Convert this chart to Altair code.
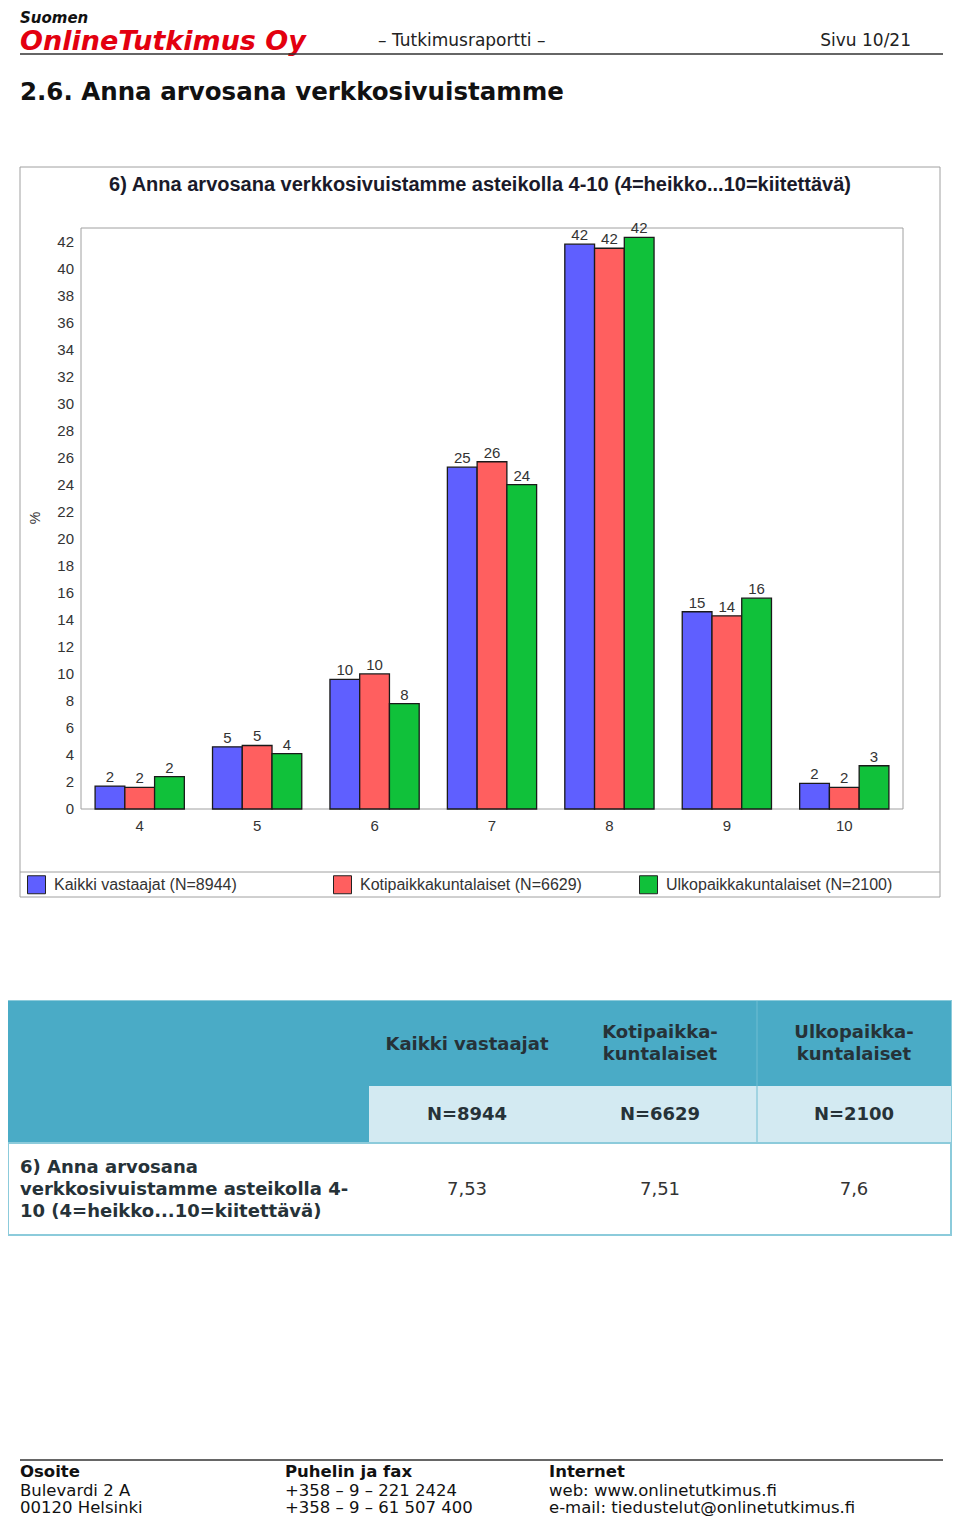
import altair as alt
import pandas as pd

# ---------------- data ----------------
categories = ["4", "5", "6", "7", "8", "9", "10"]
series = [
    "Kaikki vastaajat (N=8944)",
    "Kotipaikkakuntalaiset (N=6629)",
    "Ulkopaikkakuntalaiset (N=2100)",
]
kaikki = [1.7, 4.6, 9.6, 25.3, 41.8, 14.6, 1.9]
koti = [1.6, 4.7, 10.0, 25.7, 41.5, 14.3, 1.6]
ulko = [2.4, 4.1, 7.8, 24.0, 42.3, 15.6, 3.2]
colors = ["#5f5fff", "#ff5f5f", "#10c13a"]
y_ticks = list(range(0, 43, 2))

table_cols = ["Kaikki vastaajat", ["Kotipaikka-", "kuntalaiset"], ["Ulkopaikka-", "kuntalaiset"]]
table_n = ["N=8944", "N=6629", "N=2100"]
table_means = ["7,53", "7,51", "7,6"]

rows = []
for s, vals in zip(series, [kaikki, koti, ulko]):
    for c, v in zip(categories, vals):
        rows.append({"cat": c, "series": s, "value": v})
df = pd.DataFrame(rows)
ticks_df = pd.DataFrame({"tick": y_ticks})
cats_df = pd.DataFrame({"cat": categories})

O = 8  # page margin offset
W, H = 944, 1508

CHART_FONT = "Liberation Sans"
DOC_FONT = "DejaVu Sans"
one = alt.Data(values=[{"a": 1}])


def P(v):
    return v - O


def box(x1, y1, x2, y2, fill="white", stroke=None, sw=1):
    kw = dict(fill=fill)
    if stroke:
        kw.update(stroke=stroke, strokeWidth=sw)
    return alt.Chart(one).mark_rect(**kw).encode(
        x=alt.value(P(x1)), x2=alt.value(P(x2)), y=alt.value(P(y1)), y2=alt.value(P(y2))
    )


def hline(x1, x2, y, color, sw):
    return alt.Chart(one).mark_rule(color=color, strokeWidth=sw).encode(
        x=alt.value(P(x1)), x2=alt.value(P(x2)), y=alt.value(P(y))
    )


def vline(x, y1, y2, color, sw):
    return alt.Chart(one).mark_rule(color=color, strokeWidth=sw).encode(
        x=alt.value(P(x)), y=alt.value(P(y1)), y2=alt.value(P(y2))
    )


def txt(x, y, text, size=16, weight="normal", color="#222", align="left",
        font=DOC_FONT, style="normal", angle=0, line_height=None):
    kw = dict(text=text, fontSize=size, fontWeight=weight, color=color, align=align,
              baseline="middle", font=font, fontStyle=style)
    if angle:
        kw["angle"] = angle
    if line_height:
        kw["lineHeight"] = line_height
    return alt.Chart(one).mark_text(**kw).encode(x=alt.value(P(x)), y=alt.value(P(y)))


layers = []

# ---------------- page header ----------------
layers.append(txt(20, 17.5, "Suomen", size=15, weight="bold", style="italic", color="#111"))
layers.append(txt(20, 42, "OnlineTutkimus Oy", size=27, weight="bold", style="italic", color="#e3000f"))
layers.append(txt(378, 41, "– Tutkimusraportti –", size=17))
layers.append(txt(911, 41, "Sivu 10/21", size=17, align="right"))
layers.append(hline(20, 943, 54, "#333333", 1.5))
layers.append(txt(20, 93, "2.6. Anna arvosana verkkosivuistamme", size=24.5, weight="bold", color="#111"))

# ---------------- chart frame ----------------
layers.append(box(20, 167, 940, 897, fill="white", stroke="#a0a0a0", sw=1))
layers.append(hline(20, 940, 872, "#a0a0a0", 1))
layers.append(box(81, 228, 903, 809, fill="white", stroke="#a0a0a0", sw=1))
layers.append(txt(480, 185, "6) Anna arvosana verkkosivuistamme asteikolla 4-10 (4=heikko...10=kiitettävä)",
                  size=20, weight="bold", color="#1a1a2a", font=CHART_FONT, align="center"))
layers.append(txt(36, 518, "%", size=14, color="#333", font=CHART_FONT, align="center", angle=270))

# ---------------- bars ----------------
x_scale = alt.Scale(domain=categories, range=[P(81), P(903)], paddingInner=0.24, paddingOuter=0.12)
y_scale = alt.Scale(domain=[0, 43], range=[P(809), P(228)], nice=False, zero=True)
xoff_scale = alt.Scale(domain=series, paddingInner=0, paddingOuter=0)
color_scale = alt.Scale(domain=series, range=colors)

X = alt.X("cat:N", scale=x_scale, axis=None)
XO = alt.XOffset("series:N", scale=xoff_scale)
Y = alt.Y("value:Q", scale=y_scale, axis=None)

bars = alt.Chart(df).mark_bar(stroke="#1a1a1a", strokeWidth=1.3).encode(
    x=X, xOffset=XO, y=Y,
    color=alt.Color(
        "series:N", scale=color_scale,
        legend=alt.Legend(
            orient="none", legendX=P(27), legendY=P(875), direction="horizontal",
            columns=3, gridAlign="all", columnPadding=50, title=None,
            symbolType="square", symbolSize=324, symbolStrokeColor="#222",
            symbolStrokeWidth=1, symbolOpacity=1,
            labelFont=CHART_FONT, labelFontSize=16, labelColor="#333",
            labelOffset=8, labelLimit=0, padding=0,
        ),
    ),
)
layers.append(bars)

labels = alt.Chart(df).mark_text(
    baseline="alphabetic", dy=-4, font=CHART_FONT, fontSize=15, color="#333"
).encode(x=X, xOffset=XO, y=Y, text=alt.Text("value:Q", format=".0f"))
layers.append(labels)

ytick_labels = alt.Chart(ticks_df).mark_text(
    align="right", baseline="middle", font=CHART_FONT, fontSize=15, color="#333"
).encode(y=alt.Y("tick:Q", scale=y_scale, axis=None), x=alt.value(P(74)), text="tick:Q")
layers.append(ytick_labels)

xcat_labels = alt.Chart(cats_df).mark_text(
    align="center", baseline="middle", font=CHART_FONT, fontSize=15, color="#333"
).encode(x=X, y=alt.value(P(826)), text="cat:N")
layers.append(xcat_labels)

# ---------------- table ----------------
TEAL = "#4aabc6"
LIGHT = "#d3eaf2"
BORDER = "#8ccbdb"
layers.append(box(8, 1001, 951, 1235, fill="white", stroke=BORDER, sw=2))
layers.append(box(8, 1001, 951, 1143, fill=TEAL))
layers.append(box(369, 1086, 951, 1143, fill=LIGHT))
layers.append(vline(757, 1001, 1143, "#6fbdd2", 1))
layers.append(hline(8, 951, 1143, BORDER, 2))
col_centers = [467, 660, 854]
for cx, head, n, m in zip(col_centers, table_cols, table_n, table_means):
    if isinstance(head, list):
        layers.append(txt(cx, 1033, head, size=18, weight="bold", color="#263238",
                          align="center", line_height=22))
    else:
        layers.append(txt(cx, 1045, head, size=18, weight="bold", color="#263238", align="center"))
    layers.append(txt(cx, 1115, n, size=18, weight="bold", color="#263238", align="center"))
    layers.append(txt(cx, 1190, m, size=18, color="#333", align="center"))
layers.append(txt(20, 1168, ["6) Anna arvosana", "verkkosivuistamme asteikolla 4-",
                             "10 (4=heikko...10=kiitettävä)"],
                  size=18, weight="bold", color="#263238", line_height=22))

# ---------------- footer ----------------
layers.append(hline(20, 943, 1460, "#666666", 2))
footer = [
    (20, ["Osoite", "Bulevardi 2 A", "00120 Helsinki"]),
    (285, ["Puhelin ja fax", "+358 – 9 – 221 2424", "+358 – 9 – 61 507 400"]),
    (549, ["Internet", "web: www.onlinetutkimus.fi", "e-mail: tiedustelut@onlinetutkimus.fi"]),
]
for fx, lines in footer:
    layers.append(txt(fx, 1472, lines[0], size=16.5, weight="bold", color="#111"))
    layers.append(txt(fx, 1491, lines[1], size=16.5, color="#111"))
    layers.append(txt(fx, 1508, lines[2], size=16.5, color="#111"))

chart = alt.layer(*layers).properties(
    width=W, height=H, padding=0, autosize=alt.AutoSizeParams(type="none")
).configure(
    background="white",
    view=alt.ViewConfig(stroke="transparent", strokeWidth=0),
)

chart.save("out.html", embed_options={"renderer": "svg", "actions": False})
